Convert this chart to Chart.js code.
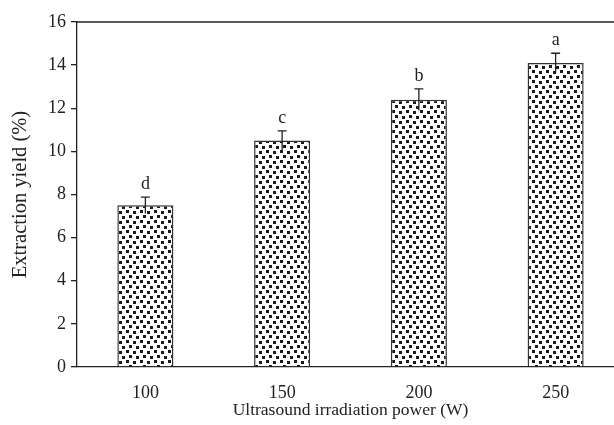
<!DOCTYPE html>
<html>
<head>
<meta charset="utf-8">
<script src="https://cdn.jsdelivr.net/npm/chart.js@4"></script>
<style>
  html, body { margin: 0; padding: 0; background: #fff; overflow: hidden; }
  #wrap { width: 624px; height: 425px; }
</style>
</head>
<body>
<div id="wrap"><canvas id="bar-chart-canvas"></canvas></div>
<script>
    // data
    var powers = ['100', '150', '200', '250'];
    var yields = [7.5, 10.5, 12.4, 14.1];
    var errors = [0.38, 0.45, 0.5, 0.45];
    var letters = ['d', 'c', 'b', 'a'];

    var FONT = '"Liberation Serif", "DejaVu Serif", serif';
    var INK = '#222';

    /**
     * Dotted fill used in the bars.
     */
    function makePattern(){
        var c = document.createElement('canvas');
        c.width = 14; c.height = 10;
        var g = c.getContext('2d');
        g.fillStyle = '#fff';
        g.fillRect(0, 0, 14, 10);
        g.fillStyle = '#1a1a1a';
        [[0, 0], [7, 1], [3, 5], [10, 6]].forEach(function(p){
            g.fillRect(p[0], p[1], 3, 3);
        });
        return g.createPattern(c, 'repeat');
    }

    // error bars, letters and the top frame line
    var extrasPlugin = {
        id: 'extras',
        afterDatasetsDraw: function(chart){
            var ctx = chart.ctx;
            var y = chart.scales.y;
            var area = chart.chartArea;
            var meta = chart.getDatasetMeta(0);
            ctx.save();
            ctx.strokeStyle = INK;
            ctx.lineWidth = 1.3;
            meta.data.forEach(function(bar, i){
                var top = y.getPixelForValue(yields[i] + errors[i]);
                var bot = y.getPixelForValue(yields[i] - errors[i]);
                ctx.beginPath();
                ctx.moveTo(bar.x, bot);
                ctx.lineTo(bar.x, top);
                ctx.moveTo(bar.x - 4.5, top);
                ctx.lineTo(bar.x + 4.5, top);
                ctx.stroke();

                ctx.fillStyle = INK;
                ctx.font = '18px ' + FONT;
                ctx.textAlign = 'center';
                ctx.textBaseline = 'alphabetic';
                ctx.fillText(letters[i], bar.x, top - 8);
            });
            ctx.beginPath();
            ctx.moveTo(area.left, area.top);
            ctx.lineTo(area.right, area.top);
            ctx.stroke();
            ctx.restore();
        }
    };

    var ctx = document.getElementById('bar-chart-canvas').getContext('2d');
    var myChart = new Chart(ctx, {
        type: 'bar',
        data: {
            labels: powers,
            datasets: [{
                label: 'Extraction yield',
                data: yields,
                backgroundColor: makePattern(),
                borderColor: '#333',
                borderWidth: 1.5,
                borderSkipped: 'bottom',
                categoryPercentage: 1.0,
                barPercentage: 0.41
            }]
        },
        options: {
            responsive: true,
            maintainAspectRatio: false,
            animation: false,
            devicePixelRatio: 1,
            layout: { padding: { top: 22, right: 0, left: 0, bottom: 0 } },
            plugins: {
                legend: { display: false },
                tooltip: { enabled: false }
            },
            scales: {
                x: {
                    grid: { display: false },
                    border: { display: true, color: INK, width: 1.3 },
                    ticks: { color: INK, font: { family: FONT, size: 18 }, padding: 7 },
                    title: {
                        display: true,
                        text: 'Ultrasound irradiation power (W)',
                        color: INK,
                        font: { family: FONT, size: 17.5 },
                        padding: { top: 0 }
                    },
                    afterFit: function(scale){ scale.height = 58; }
                },
                y: {
                    min: 0,
                    max: 16,
                    grid: { drawOnChartArea: false, tickLength: 6, color: INK, lineWidth: 1.3 },
                    border: { display: true, color: INK, width: 1.3 },
                    ticks: { stepSize: 2, color: INK, font: { family: FONT, size: 18 }, padding: 5 },
                    title: {
                        display: true,
                        text: 'Extraction yield (%)',
                        color: INK,
                        font: { family: FONT, size: 20.5 },
                        padding: { top: 8, bottom: 0 }
                    },
                    afterFit: function(scale){ scale.width = 77; }
                }
            }
        },
        plugins: [extrasPlugin]
    });
</script>
</body>
</html>
